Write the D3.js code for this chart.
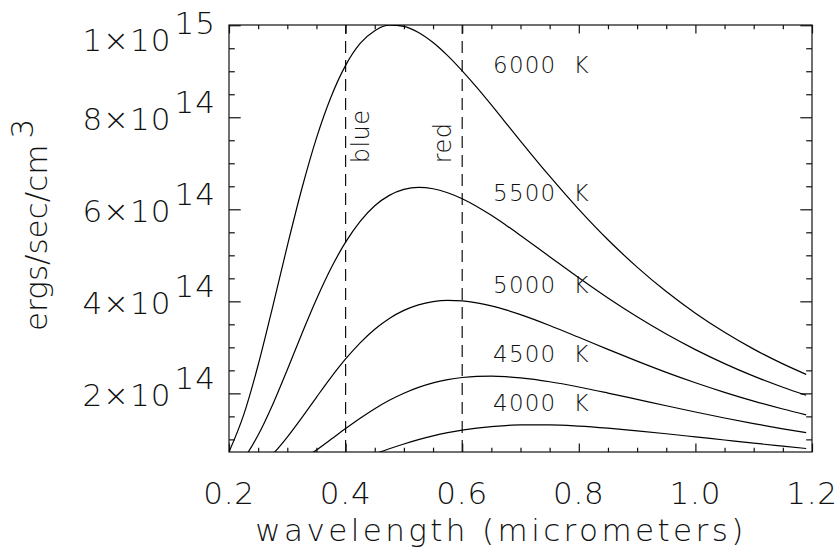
<!DOCTYPE html>
<html>
<head>
<meta charset="utf-8">
<script src="https://cdn.jsdelivr.net/npm/d3@7"></script>
<style>
  html, body { margin: 0; padding: 0; background: #fff; }
  svg text { font-family: "DejaVu Sans", "Noto Sans", sans-serif; font-weight: 200; fill: #111; }
</style>
</head>
<body>
<svg id="chart" width="840" height="558"></svg>
<script>
// ---- data (flux in units of 1e14 ergs/sec/cm^3) ----
const wavelengths = [0.2, 0.225, 0.25, 0.275, 0.3, 0.325, 0.35, 0.375, 0.4, 0.425, 0.45, 0.475, 0.5, 0.525, 0.55, 0.575, 0.6, 0.625, 0.65, 0.675, 0.7, 0.75, 0.8, 0.85, 0.9, 0.95, 1.0, 1.05, 1.1, 1.15, 1.19];
const temps = ["6000 K", "5500 K", "5000 K", "4500 K", "4000 K"];
const flux6000 = [0.726, 1.526, 2.616, 3.886, 5.204, 6.452, 7.548, 8.441, 9.127, 9.604, 9.882, 10.002, 9.977, 9.843, 9.624, 9.339, 9.008, 8.648, 8.267, 7.875, 7.484, 6.720, 5.999, 5.338, 4.744, 4.212, 3.742, 3.327, 2.961, 2.640, 2.412];
const flux5500 = [0.244, 0.579, 1.094, 1.759, 2.515, 3.297, 4.045, 4.718, 5.286, 5.739, 6.077, 6.303, 6.432, 6.475, 6.447, 6.360, 6.229, 6.062, 5.868, 5.655, 5.433, 4.971, 4.512, 4.073, 3.664, 3.290, 2.951, 2.647, 2.374, 2.132, 1.958];
const flux5000 = [0.066, 0.181, 0.384, 0.679, 1.051, 1.474, 1.915, 2.347, 2.747, 3.098, 3.393, 3.628, 3.803, 3.924, 3.994, 4.020, 4.009, 3.968, 3.900, 3.813, 3.710, 3.475, 3.218, 2.956, 2.701, 2.457, 2.231, 2.023, 1.832, 1.660, 1.534];
const flux4500 = [0.013, 0.044, 0.107, 0.212, 0.362, 0.551, 0.768, 1.001, 1.235, 1.459, 1.666, 1.849, 2.003, 2.130, 2.228, 2.299, 2.345, 2.369, 2.374, 2.362, 2.335, 2.252, 2.138, 2.007, 1.869, 1.730, 1.595, 1.465, 1.343, 1.230, 1.146];
const flux4000 = [0.002, 0.007, 0.022, 0.050, 0.096, 0.161, 0.245, 0.345, 0.454, 0.570, 0.685, 0.796, 0.900, 0.994, 1.076, 1.145, 1.202, 1.246, 1.279, 1.301, 1.314, 1.314, 1.288, 1.243, 1.186, 1.122, 1.054, 0.986, 0.918, 0.853, 0.802];
const seriesValues = [flux6000, flux5500, flux5000, flux4500, flux4000];
const labelYValues = [8.97, 6.18, 4.18, 2.69, 1.62];   // where the temperature labels sit (data units)

const xDomain = [0.2, 1.2];
const yDomain = [0.7257, 10.005];
const xTickValues = [0.2, 0.4, 0.6, 0.8, 1.0, 1.2];
const xTickLabels = ["0.2", "0.4", "0.6", "0.8", "1.0", "1.2"];
const yTickValues = [2, 4, 6, 8, 10];
const yTickMantissa = ["2", "4", "6", "8", "1"];
const yTickExponent = ["14", "14", "14", "14", "15"];
const markerLines = [0.4, 0.6];
const markerNames = ["blue", "red"];
const markerTextX = [0.44, 0.58];
const markerTextY = 7.0;
const labelX = 0.653;

// ---- layout ----
const svg = d3.select("#chart");
const L = 229, R = 812, T = 25, B = 452;
const x = d3.scaleLinear().domain(xDomain).range([L, R]);
const y = d3.scaleLinear().domain(yDomain).range([B, T]);

svg.append("defs").append("clipPath").attr("id", "plotclip")
  .append("rect").attr("x", L).attr("y", T).attr("width", R - L).attr("height", B - T);

// ---- axes (IDL-style box with ticks inside) ----
const xMinor = d3.range(0.2, 1.2001, 0.05);
const yMinor = d3.range(1, 10.001, 0.5);
const xMajLen = 8.5, xMinLen = 4.3, yMajLen = 11.7, yMinLen = 5.8;

const axisG = svg.append("g").attr("stroke", "#111").attr("stroke-width", 1.2).attr("fill", "none");
axisG.append("rect").attr("x", L).attr("y", T).attr("width", R - L).attr("height", B - T);

function addTicks(axisFn, transform) {
  const g = svg.append("g").attr("transform", transform).call(axisFn);
  g.select(".domain").remove();
  g.selectAll("line").attr("stroke", "#111").attr("stroke-width", 1.2);
  g.selectAll("text").remove();
  return g;
}
const isMajX = v => xTickValues.some(t => Math.abs(t - v) < 1e-6);
const isMajY = v => v % 2 === 0;

["bottom", "top"].forEach(side => {
  const g = addTicks(d3.axisTop(x).tickValues(xMinor).tickFormat("").tickSizeOuter(0),
    `translate(0,${side === "bottom" ? B : T})`);
  g.selectAll(".tick line").attr("y2", d => (side === "bottom" ? -1 : 1) * (isMajX(d) ? xMajLen : xMinLen));
});
["left", "right"].forEach(side => {
  const g = addTicks(d3.axisLeft(y).tickValues(yMinor).tickFormat("").tickSizeOuter(0),
    `translate(${side === "left" ? L : R},0)`);
  g.selectAll(".tick line").attr("x2", d => (side === "left" ? 1 : -1) * (isMajY(d) ? yMajLen : yMinLen));
});

// x tick labels
svg.append("g").selectAll("text").data(xTickValues).join("text")
  .attr("x", d => x(d)).attr("y", 504).attr("text-anchor", "middle")
  .attr("font-size", 31).attr("letter-spacing", 0.8)
  .text((d, i) => xTickLabels[i]);

// y tick labels with exponent
const yl = svg.append("g").selectAll("text").data(yTickValues).join("text")
  .attr("x", 216).attr("y", d => Math.max(y(d) + 13, 50.5)).attr("text-anchor", "end")
  .attr("font-size", 31).attr("letter-spacing", 1);
yl.append("tspan").text((d, i) => yTickMantissa[i] + "\u00d710");
yl.append("tspan").attr("dx", 3).attr("dy", -17).text((d, i) => yTickExponent[i]);

// axis titles
svg.append("text").attr("x", 501).attr("y", 541).attr("text-anchor", "middle")
  .attr("font-size", 31).attr("letter-spacing", 3.4)
  .text("wavelength (micrometers)");
const yt = svg.append("text").attr("transform", "translate(47,331) rotate(-90)")
  .attr("font-size", 31).attr("letter-spacing", 0);
yt.append("tspan").text("ergs/sec/cm");
yt.append("tspan").attr("dx", 6).attr("dy", -14).text("3");

// ---- marker lines ----
svg.append("g").selectAll("line").data(markerLines).join("line")
  .attr("x1", d => x(d)).attr("x2", d => x(d)).attr("y1", B).attr("y2", T)
  .attr("stroke", "#111").attr("stroke-width", 1.2).attr("stroke-dasharray", "12,7");
svg.append("g").selectAll("text").data(markerNames).join("text")
  .attr("transform", (d, i) => `translate(${x(markerTextX[i])},${y(markerTextY)}) rotate(-90)`)
  .attr("font-size", 24).attr("letter-spacing", 0.5).text(d => d);

// ---- curves ----
const line = d3.line().x((d, i) => x(wavelengths[i])).y(d => y(d)).curve(d3.curveMonotoneX);
svg.append("g").attr("clip-path", "url(#plotclip)").selectAll("path").data(seriesValues).join("path")
  .attr("d", d => line(d)).attr("fill", "none").attr("stroke", "#000").attr("stroke-width", 1.2);

// temperature labels
svg.append("g").selectAll("text").data(temps).join("text")
  .attr("x", x(labelX)).attr("y", (d, i) => y(labelYValues[i]))
  .attr("font-size", 23).attr("letter-spacing", 1.2).attr("xml:space", "preserve")
  .text(d => d.replace(" ", "  "));
</script>
</body>
</html>
